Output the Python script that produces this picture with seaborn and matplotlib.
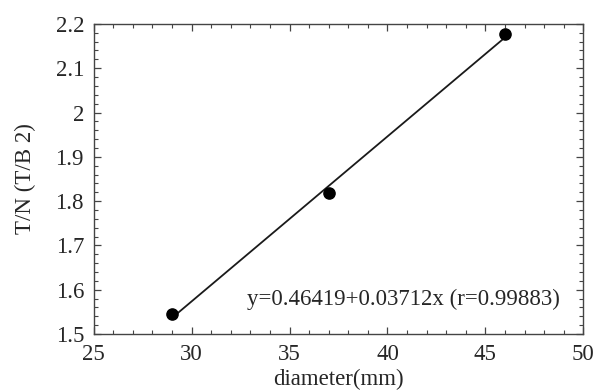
import matplotlib
matplotlib.use("Agg")
import matplotlib.pyplot as plt
import seaborn as sns
import pandas as pd
from matplotlib.ticker import MultipleLocator

# values
diameter = [29.0, 37.0, 46.0]
tn_ratio = [1.545, 1.818, 2.177]
fit_text = "y=0.46419+0.03712x (r=0.99883)"

df = pd.DataFrame({"diameter": diameter, "tn": tn_ratio})

sns.set_style("ticks")
plt.rcParams["font.family"] = ["Liberation Serif", "DejaVu Serif"]
fs = 16.5

fig = plt.figure(figsize=(5.97, 3.92), dpi=100)
ax = fig.add_axes([0.157, 0.148, 0.82, 0.791])

sns.regplot(data=df, x="diameter", y="tn", ax=ax, ci=None, truncate=True,
            color="black",
            scatter_kws={"s": 65, "color": "black", "alpha": 1, "zorder": 3},
            line_kws={"lw": 1.3, "color": "#1a1a1a"})

ax.set_xlim(25, 50)
ax.set_ylim(1.5, 2.2)
ax.xaxis.set_major_locator(MultipleLocator(5))
ax.xaxis.set_minor_locator(MultipleLocator(1))
ax.yaxis.set_minor_locator(MultipleLocator(0.02))
ax.set_yticks([1.5, 1.6, 1.7, 1.8, 1.9, 2.0, 2.1, 2.2])
ax.set_yticklabels(["1.5", "1.6", "1.7", "1.8", "1.9", "2", "2.1", "2.2"])
ax.tick_params(which="both", direction="in", top=True, right=True, color="#444444")
ax.tick_params(which="major", length=5, width=0.9, labelsize=fs, pad=7)
ax.tick_params(which="minor", length=3, width=0.8)
for s in ax.spines.values():
    s.set_linewidth(1.0)
    s.set_color("#444444")

ax.set_xlabel("diameter(mm)", fontsize=fs, labelpad=3)
ax.set_ylabel("T/N (T/B 2)", fontsize=fs, labelpad=14)
ax.text(48.8, 1.577, fit_text, ha="right", va="center", fontsize=fs)

fig.savefig("out.png", dpi=100)
